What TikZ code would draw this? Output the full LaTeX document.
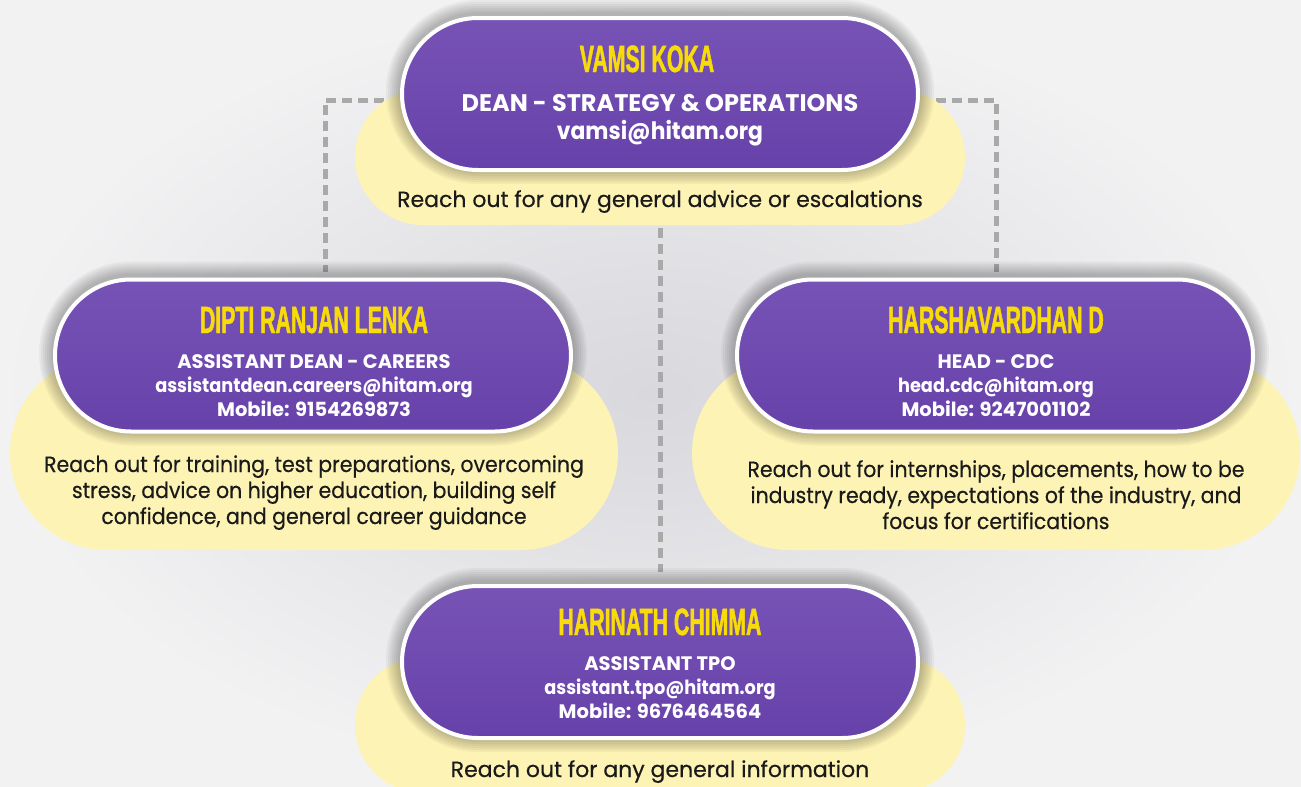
\documentclass[tikz,border=0pt]{standalone}
\usepackage{fontspec}
\setmainfont{Poppins}
\newfontfamily\namefont[FakeStretch=0.56, BoldFeatures={FakeBold=1.2}]{Liberation Sans}
\newfontfamily\mailfont[FakeStretch=0.91]{Poppins}
\newfontfamily\notefont[FakeStretch=0.93, FakeBold=0.4]{Poppins}
\newfontfamily\notefontw[FakeBold=0.4]{Poppins}
\usetikzlibrary{calc}
\pgfdeclarelayer{bgl}
\pgfdeclarelayer{connl}
\pgfdeclarelayer{notel}
\pgfdeclarelayer{shadl}
\pgfsetlayers{bgl,connl,notel,shadl,main}
\definecolor{bgmid}{HTML}{D8D8DD}
\definecolor{bgout}{HTML}{F2F2F3}
\definecolor{pilltop}{HTML}{7853B6}
\definecolor{pillbot}{HTML}{6641A9}
\definecolor{notec}{HTML}{FDF3B5}
\definecolor{namey}{HTML}{F7DC0A}
\definecolor{dashc}{HTML}{A9A9A9}
\definecolor{ink}{HTML}{1A1A1A}
\tikzset{
  pill/.style={draw=white, line width=4pt, rounded corners=76pt,
    top color=pilltop, bottom color=pillbot,
    minimum width=516pt, minimum height=152pt, inner sep=0pt},
  notewide/.style={fill=notec, rounded corners=97pt, minimum width=608pt,
    minimum height=194pt, inner sep=0pt},
  noteflat/.style={fill=notec, rounded corners=68pt, minimum width=610pt,
    minimum height=136pt, inner sep=0pt},
  conn/.style={draw=dashc, line width=5pt, dash pattern=on 10pt off 6pt},
  nametext/.style={text=namey, font=\namefont\bfseries\fontsize{38}{40}\selectfont,
    anchor=base, inner sep=0pt},
  infobig/.style={text=white, font=\bfseries\fontsize{24}{28}\selectfont,
    align=center, anchor=base, inner sep=0pt},
  infosmall/.style={text=white, font=\bfseries\fontsize{19.5}{24}\selectfont,
    align=center, anchor=base, inner sep=0pt},
  notetext/.style={text=ink, font=\notefontw\fontsize{22}{26}\selectfont,
    align=center, anchor=base, inner sep=0pt},
  notetextn/.style={notetext, font=\notefont\fontsize{22}{26}\selectfont}
}
\newcommand\mail[1]{{\mailfont\bfseries #1}}
\newcommand\pillshadow[2]{%
  \foreach \k [evaluate=\k as \rr using 78+2*\k] in {1,...,7}{%
    \fill[black, opacity=0.04, rounded corners=\rr pt]
      ({#1-260-2*\k},{#2-78-2*\k-2}) rectangle ({#1+260+2*\k},{#2+78+2*\k-2});}}
\begin{document}
\begin{tikzpicture}[x=1pt, y=-1pt]
\useasboundingbox (0,0) rectangle (1301,787);
\begin{pgfonlayer}{bgl}
\shade[inner color=bgmid, outer color=bgout] (0,0) rectangle (1301,787);
\end{pgfonlayer}

% pills
\node[pill] (dean) at (660,94) {};
\node[pill] (dipti) at (313,355.5) {};
\node[pill] (harsha) at (995,355.5) {};
\node[pill] (hari) at (660,662) {};

% yellow notes
\begin{pgfonlayer}{notel}
\node[noteflat] (dean-note) at (660,157) {};
\node[notewide] (dipti-note) at (314,453) {};
\node[notewide] (harsha-note) at (996,453) {};
\node[noteflat] (hari-note) at (660,725) {};
\end{pgfonlayer}

% connectors
\begin{pgfonlayer}{connl}
\coordinate (kl) at (325,100);
\coordinate (kr) at (996,100);
\draw[conn, shorten >=5.5pt] (dean.west |- kl) -- (kl) -- (kl |- dipti.north);
\draw[conn, shorten >=5.5pt] (dean.east |- kr) -- (kr) -- (kr |- harsha.north);
\draw[conn, shorten <=3pt, shorten >=12pt] (dean-note.south) -- (hari.north);
\end{pgfonlayer}

% shadows
\begin{pgfonlayer}{shadl}
\pillshadow{660}{94}
\pillshadow{313}{355.5}
\pillshadow{995}{355.5}
\pillshadow{660}{662}
\end{pgfonlayer}

% texts (anchor base = baseline of the last line)
\node[nametext] (dean-name) at (647,72) {VAMSI KOKA};
\node[infobig] (dean-info) at (660,139) {DEAN - STRATEGY \& OPERATIONS\\\mail{vamsi@hitam.org}};
\node[notetext] (dean-txt) at (660,207) {Reach out for any general advice or escalations};

\node[nametext] (dipti-name) at (314,333) {DIPTI RANJAN LENKA};
\node[infosmall] (dipti-info) at (314,416) {ASSISTANT DEAN - CAREERS\\\mail{assistantdean.careers@hitam.org}\\Mobile: 9154269873};
\node[notetextn] (dipti-txt) at (314,524) {Reach out for training, test preparations, overcoming\\stress, advice on higher education, building self\\confidence, and general career guidance};

\node[nametext] (harsha-name) at (996,333) {HARSHAVARDHAN D};
\node[infosmall] (harsha-info) at (996,416) {HEAD - CDC\\\mail{head.cdc@hitam.org}\\Mobile: 9247001102};
\node[notetextn] (harsha-txt) at (996,529) {Reach out for internships, placements, how to be\\industry ready, expectations of the industry, and\\focus for certifications};

\node[nametext] (hari-name) at (660,635) {HARINATH CHIMMA};
\node[infosmall] (hari-info) at (660,718) {ASSISTANT TPO\\\mail{assistant.tpo@hitam.org}\\Mobile: 9676464564};
\node[notetext] (hari-txt) at (660,777) {Reach out for any general information};
\end{tikzpicture}
\end{document}
